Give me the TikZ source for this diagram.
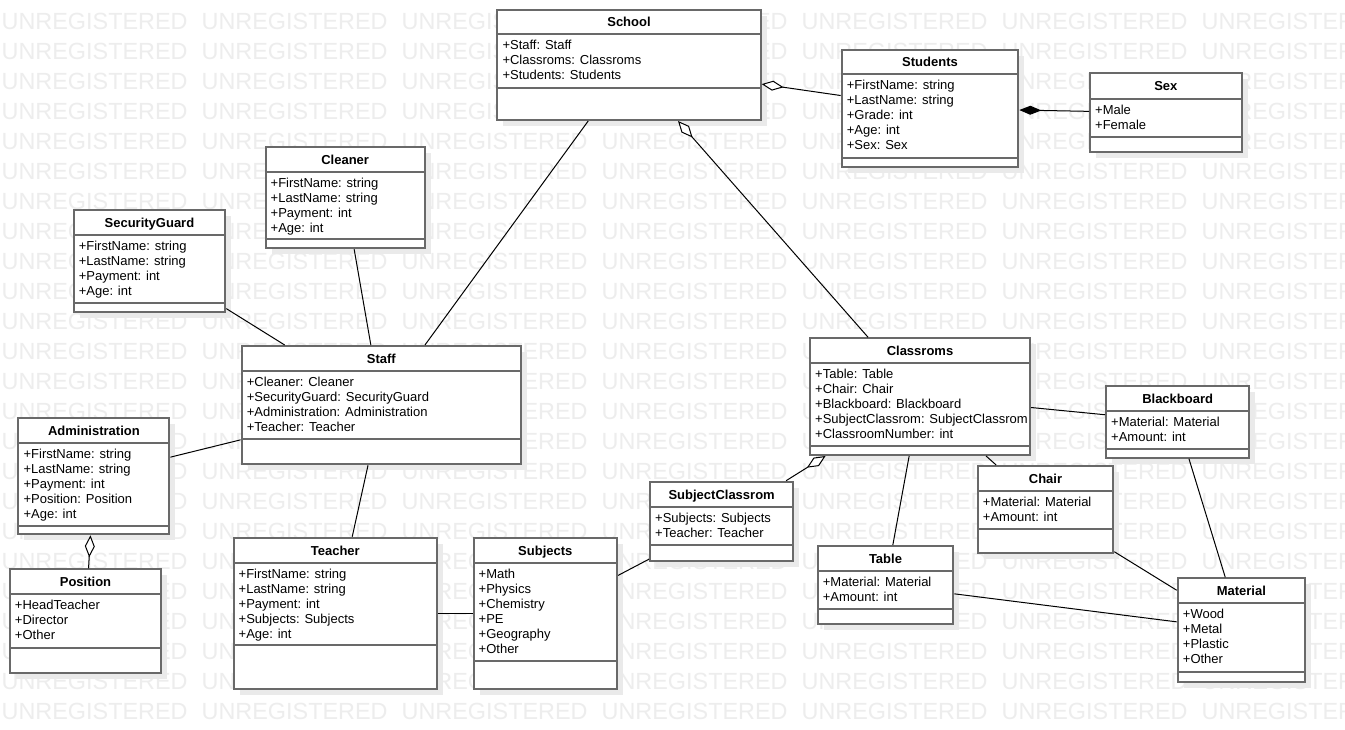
\documentclass[tikz,border=0pt]{standalone}
\usepackage{fontspec}
\setmainfont{Liberation Sans}
\usetikzlibrary{arrows.meta}
\definecolor{wmc}{RGB}{237,237,237}
\definecolor{shc}{RGB}{234,234,234}
\definecolor{boxc}{RGB}{105,105,105}
\newcommand{\wmword}{\makebox[200pt][l]{UNREGISTERED}}
\newcommand{\wmrow}{\wmword\wmword\wmword\wmword\wmword\wmword\wmword}
\tikzset{
  box/.style={draw=boxc, line width=2pt, fill=white, inner sep=0pt, outer sep=1pt},
  sepline/.style={draw=boxc, line width=2pt},
  shadowbox/.style={fill=shc},
  ttl/.style={font=\bfseries\fontsize{13}{15}\selectfont, inner sep=0pt, anchor=base},
  attr/.style={font=\fontsize{13}{15}\selectfont, inner sep=0pt, anchor=base west},
  wm/.style={font=\fontsize{23.4}{24}\selectfont, text=wmc, inner sep=0pt, anchor=base west},
  conn/.style={draw=black, line width=1pt},
  agg/.style={conn, {Diamond[fill=white,length=22pt,width=10pt]}-},
  comp/.style={conn, {Diamond[fill=black,length=22pt,width=9pt]}-},
}
% #1 name, #2 x1, #3 y1, #4 x2, #5 y2, #6 title sep, #7 attr sep, #8 title, #9 attributes
\newcommand{\umlclass}[9]{%
  \fill[shadowbox] ({#2+6},{#3+6}) rectangle ({#4+6},{#5+6});
  \node[box, minimum width={#4pt-#2pt}, minimum height={#5pt-#3pt}] (#1) at ({(#2+#4)/2},{(#3+#5)/2}) {};
  \draw[sepline] (#2,#6) -- (#4,#6);
  \draw[sepline] (#2,#7) -- (#4,#7);
  \node[ttl] (#1-t) at ({(#2+#4)/2},{(#3+#6)/2+4.8}) {#8};
  \foreach \t [count=\i] in {#9} {\node[attr] (#1-a\i) at ({#2+5},{#6+0.5+15*\i}) {\t};}
}
\begin{document}
\begin{tikzpicture}[x=1pt,y=-1pt]
\useasboundingbox (0,0) rectangle (1345,730);
\clip (0,0) rectangle (1345,730);
\fill[white] (0,0) rectangle (1345,730);
% watermark
\foreach \r in {0,...,23} {\node[wm] (wm\r) at (1.5,{29.3+30*\r}) {\wmrow};}
% classes
\umlclass{school}{497.3}{10}{760.7}{120}{34.3}{88.3}{School}{+Staff: Staff,+Classroms: Classroms,+Students: Students}
\umlclass{students}{841.7}{50}{1018.3}{166.7}{74.3}{158.3}{Students}{+FirstName: string,+LastName: string,+Grade: int,+Age: int,+Sex: Sex}
\umlclass{sex}{1090}{73.3}{1241.7}{152.3}{99}{137.3}{Sex}{+Male,+Female}
\umlclass{cleaner}{265.5}{146.7}{424.8}{248.3}{172.3}{239.3}{Cleaner}{+FirstName: string,+LastName: string,+Payment: int,+Age: int}
\umlclass{guard}{73.6}{210}{225.3}{311.7}{235}{302.7}{SecurityGuard}{+FirstName: string,+LastName: string,+Payment: int,+Age: int}
\umlclass{staff}{241.6}{346}{521}{464.3}{370.7}{439}{Staff}{+Cleaner: Cleaner,+SecurityGuard: SecurityGuard,+Administration: Administration,+Teacher: Teacher}
\umlclass{admin}{18.4}{417.7}{169.4}{534.3}{442.7}{526}{Administration}{+FirstName: string,+LastName: string,+Payment: int,+Position: Position,+Age: int}
\umlclass{position}{9.8}{569.3}{161.2}{672.7}{594.3}{647.7}{Position}{+HeadTeacher,+Director,+Other}
\umlclass{teacher}{233.5}{537.7}{437.1}{689.3}{562.7}{645.3}{Teacher}{+FirstName: string,+LastName: string,+Payment: int,+Subjects: Subjects,+Age: int}
\umlclass{subjects}{473.5}{537.7}{617.1}{689.3}{562.7}{660.7}{Subjects}{+Math,+Physics,+Chemistry,+PE,+Geography,+Other}
\umlclass{subjcls}{650}{481.7}{793.3}{560.7}{506.7}{545}{SubjectClassrom}{+Subjects: Subjects,+Teacher: Teacher}
\umlclass{classroms}{810}{338.3}{1030}{455}{362.7}{446}{Classroms}{+Table: Table,+Chair: Chair,+Blackboard: Blackboard,+SubjectClassrom: SubjectClassrom,+ClassroomNumber: int}
\umlclass{blackboard}{1106}{386}{1249.3}{457.7}{411}{449}{Blackboard}{+Material: Material,+Amount: int}
\umlclass{chair}{977.7}{466}{1113.3}{552.7}{491}{529}{Chair}{+Material: Material,+Amount: int}
\umlclass{table}{817.7}{546}{953.3}{624.3}{571}{609}{Table}{+Material: Material,+Amount: int}
\umlclass{material}{1177.7}{578.3}{1305}{681.7}{602.7}{671.7}{Material}{+Wood,+Metal,+Plastic,+Other}
% connectors
\draw[agg] (school) -- (students);
\draw[comp] (students) -- (sex);
\draw[agg] (school) -- (classroms);
\draw[conn] (school) -- (staff);
\draw[conn] (cleaner) -- (staff);
\draw[conn] (guard) -- (staff);
\draw[conn] (admin) -- (staff);
\draw[agg] (admin) -- (position);
\draw[conn] (staff) -- (teacher);
\draw[conn] (teacher) -- (subjects);
\draw[conn] (subjects) -- (subjcls);
\draw[agg] (classroms) -- (subjcls);
\draw[conn] (classroms) -- (table);
\draw[conn] (classroms) -- (chair);
\draw[conn] (classroms) -- (blackboard);
\draw[conn] (blackboard) -- (material);
\draw[conn] (chair) -- (material);
\draw[conn] (table) -- (material);
\end{tikzpicture}
\end{document}
